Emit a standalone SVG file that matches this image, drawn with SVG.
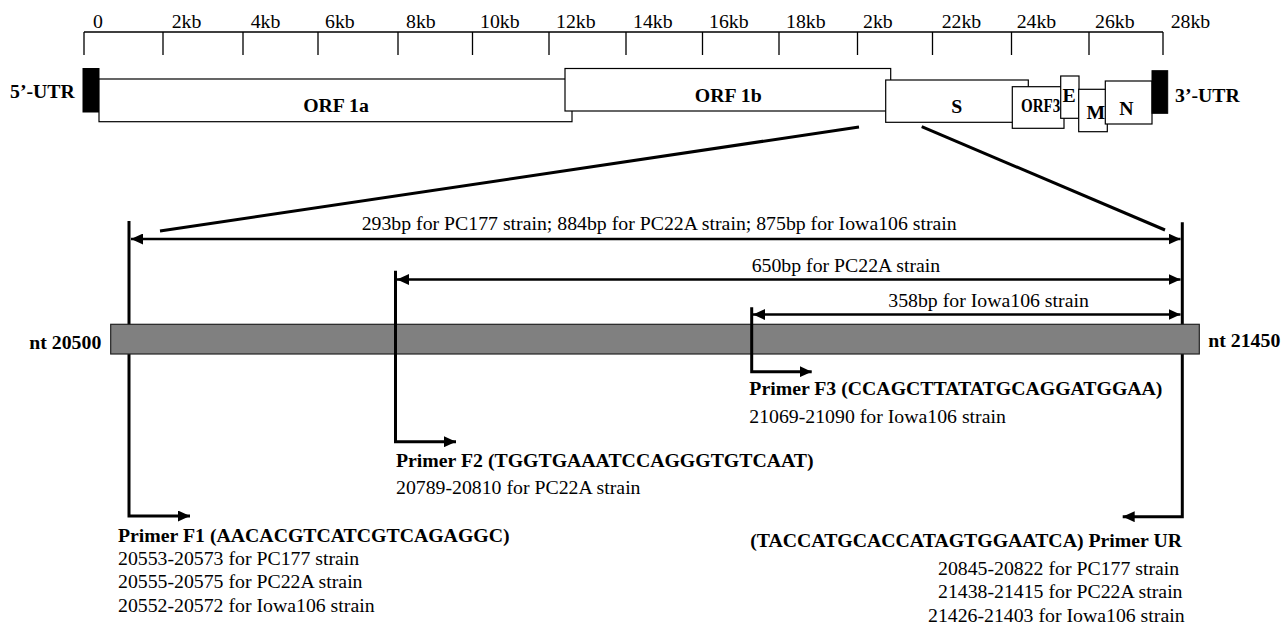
<svg xmlns="http://www.w3.org/2000/svg" width="1287" height="626" viewBox="0 0 1287 626">
<defs>
<style>
text{font-family:"Liberation Serif","Times New Roman",serif;font-size:19.8px;fill:#000}
.b{font-weight:bold}
.box{fill:#fff;stroke:#000;stroke-width:1.2}
.utr{fill:#000;stroke:#000;stroke-width:1}
.scale{stroke:#000;stroke-width:1.3;fill:none}
.thick{stroke:#000;stroke-width:3;fill:none}
.dim{stroke:#000;stroke-width:2.6;fill:none}
</style>
<marker id="ah" viewBox="0 0 12 11" refX="12" refY="5.5" markerWidth="12" markerHeight="11" markerUnits="userSpaceOnUse" orient="auto-start-reverse">
<path d="M0,0 L12,5.5 L0,11 Z" fill="#000"/>
</marker>
</defs>
<rect width="1287" height="626" fill="#fff"/>

<g id="scale">
<path class="scale" d="M84,32 H1163 M84,32 V55 M163,32 V55 M243,32 V55 M318,32 V55 M398,32 V55 M472.5,32 V55 M549,32 V55 M626,32 V55 M702.5,32 V55 M779,32 V55 M857.5,32 V55 M932.5,32 V55 M1011.5,32 V55 M1089,32 V55 M1163,32 V55"/>
<text x="93" y="28">0</text>
<text x="171.7" y="28">2kb</text>
<text x="250.7" y="28">4kb</text>
<text x="325" y="28">6kb</text>
<text x="406" y="28">8kb</text>
<text x="480" y="28">10kb</text>
<text x="556" y="28">12kb</text>
<text x="633" y="28">14kb</text>
<text x="709" y="28">16kb</text>
<text x="786" y="28">18kb</text>
<text x="863" y="28">2kb</text>
<text x="941.7" y="28">22kb</text>
<text x="1016.7" y="28">24kb</text>
<text x="1095" y="28">26kb</text>
<text x="1170.7" y="28">28kb</text>
</g>

<g id="utr5">
<rect class="utr" x="83" y="68.5" width="16" height="43.5"/>
<text class="b" x="10" y="98">5’-UTR</text>
</g>
<g id="orf1a">
<rect class="box" x="99" y="79" width="473" height="42.7"/>
<text class="b" x="336" y="112" text-anchor="middle">ORF 1a</text>
</g>
<g id="orf1b">
<rect class="box" x="565" y="68.5" width="325.7" height="42.5"/>
<text class="b" x="728.3" y="101.7" text-anchor="middle">ORF 1b</text>
</g>
<g id="s">
<rect class="box" x="885.7" y="80" width="142.6" height="42.3"/>
<text class="b" x="956.7" y="113.3" text-anchor="middle" font-size="18">S</text>
</g>
<g id="orf3">
<rect class="box" x="1012.3" y="86.7" width="51.7" height="41.6"/>
<text class="b" transform="translate(1021,112.3) scale(0.76,1)" font-size="16">ORF3</text>
</g>
<g id="e">
<rect class="box" x="1060.7" y="76" width="18.3" height="42.3"/>
<text class="b" x="1069" y="102.3" text-anchor="middle" font-size="17">E</text>
</g>
<g id="m">
<rect class="box" x="1078.7" y="89.3" width="28.6" height="42.4"/>
<text class="b" x="1095.8" y="119.3" text-anchor="middle">M</text>
</g>
<g id="n">
<rect class="box" x="1105.3" y="81" width="46.7" height="43"/>
<text class="b" x="1126.3" y="115" text-anchor="middle">N</text>
</g>
<g id="utr3">
<rect class="utr" x="1152" y="70.7" width="15.7" height="42.6"/>
<text class="b" x="1175" y="101.7">3’-UTR</text>
</g>

<g id="connectors-back">
<path class="thick" d="M129,221 V516 H190" marker-end="url(#ah)"/>
<path class="thick" d="M1182.3,222.3 V516.7 H1122.7" marker-end="url(#ah)"/>
</g>

<g id="region">
<rect x="110.7" y="324.3" width="1088.6" height="29.7" fill="#808080" stroke="#222" stroke-width="1.2"/>
<text class="b" x="29.3" y="349">nt 20500</text>
<text class="b" x="1208.3" y="346.7">nt 21450</text>
</g>

<g id="connectors">
<line class="thick" x1="859" y1="127" x2="160" y2="231"/>
<line class="thick" x1="921.7" y1="126.7" x2="1165" y2="230"/>
<line class="dim" x1="131" y1="239" x2="1180.5" y2="239" marker-start="url(#ah)" marker-end="url(#ah)"/>
<line class="dim" x1="397" y1="279.5" x2="1180.5" y2="279.5" marker-start="url(#ah)" marker-end="url(#ah)"/>
<line class="dim" x1="753" y1="314.5" x2="1180.5" y2="314.5" marker-start="url(#ah)" marker-end="url(#ah)"/>
<path class="thick" d="M395.5,270.7 V441.7 H456" marker-end="url(#ah)"/>
<path class="thick" d="M751.7,307.3 V371.7 H811.7" marker-end="url(#ah)"/>
</g>

<g id="dim-labels">
<text x="361.7" y="230">293bp for PC177 strain; 884bp for PC22A strain; 875bp for Iowa106 strain</text>
<text x="751.7" y="271.7">650bp for PC22A strain</text>
<text x="888.3" y="306.7">358bp for Iowa106 strain</text>
</g>

<g id="primer-f1">
<text class="b" x="118" y="541.7">Primer F1 (AACACGTCATCGTCAGAGGC)</text>
<text x="118" y="565">20553-20573 for PC177 strain</text>
<text x="118" y="588.3">20555-20575 for PC22A strain</text>
<text x="118" y="611.7">20552-20572 for Iowa106 strain</text>
</g>
<g id="primer-f2">
<text class="b" x="396" y="466.7">Primer F2 (TGGTGAAATCCAGGGTGTCAAT)</text>
<text x="396" y="494.3">20789-20810 for PC22A strain</text>
</g>
<g id="primer-f3">
<text class="b" x="749.3" y="395">Primer F3 (CCAGCTTATATGCAGGATGGAA)</text>
<text x="749.3" y="423.3">21069-21090 for Iowa106 strain</text>
</g>
<g id="primer-ur">
<text class="b" x="1182" y="546.7" text-anchor="end">(TACCATGCACCATAGTGGAATCA) Primer UR</text>
<text x="938" y="575">20845-20822 for PC177 strain</text>
<text x="938" y="598">21438-21415 for PC22A strain</text>
<text x="928" y="621.7">21426-21403 for Iowa106 strain</text>
</g>
</svg>
